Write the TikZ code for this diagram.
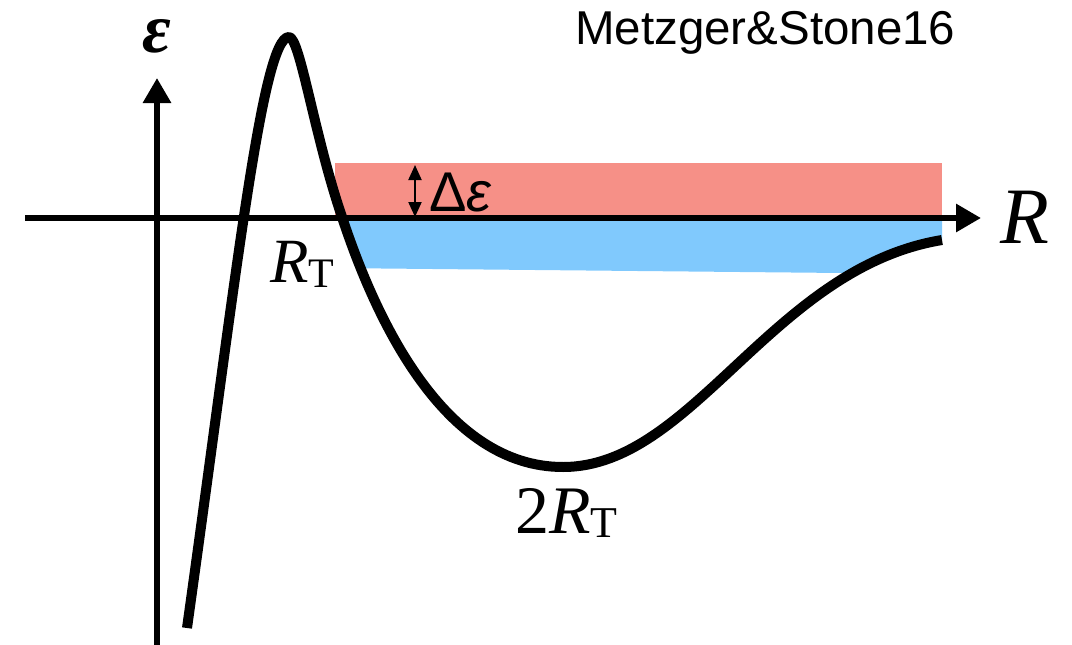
\documentclass[tikz,border=0pt]{standalone}
\usepackage{fontspec}
\setmainfont{Liberation Serif}
\newfontfamily\labelsans{Liberation Sans}
\usetikzlibrary{arrows.meta}
\definecolor{bandred}{HTML}{F69087}
\definecolor{bandblue}{HTML}{80C9FD}
\tikzset{
  axisline/.style={line width=6pt,-{Triangle[length=25pt,width=27pt]}},
  potential/.style={line width=10pt,line join=round},
  gap/.style={line width=2pt,{Triangle[length=15pt,width=13pt]}-{Triangle[length=15pt,width=13pt]}},
  lbl/.style={inner sep=0pt,anchor=base west}
}
\begin{document}
\begin{tikzpicture}[x=1pt,y=-1pt]
\useasboundingbox (0,0) rectangle (1072,645);
% bands
\fill[bandred] (335,163) rectangle (942,218);
\begin{scope}
  \clip (342,218) .. controls (375,317) and (443,467) .. (563,467)
        .. controls (693,467) and (772,268) .. (942,240) -- (942,218) -- cycle;
  \fill[bandblue] (330,218) -- (945,218) -- (945,274) -- (330,268) -- cycle;
\end{scope}
% axes
\coordinate (xs) at (25,218);
\coordinate (xe) at (981,218);
\coordinate (ys) at (157,645);
\coordinate (ye) at (157,78);
\draw[axisline] (xs) -- (xe);
\draw[axisline] (ys) -- (ye);
% potential curve
\coordinate (c0) at (187,628);
\coordinate (peak) at (289,37);
\coordinate (rt) at (342,217);
\coordinate (min) at (563,467);
\coordinate (cend) at (942,240);
\draw[potential] (c0) .. controls (236,278) and (262,37) .. (peak)
  .. controls (300,37) and (314,135) .. (rt)
  .. controls (375,317) and (443,467) .. (min)
  .. controls (693,467) and (772,268) .. (cend);
% delta epsilon arrow
\coordinate (dt) at (415,165);
\coordinate (db) at (415,217);
\draw[gap] (dt) -- (db);
% labels
\node[lbl] (eps) at (142,52) {\fontsize{70}{70}\selectfont\bfseries\itshape ε};
\node[lbl] (rlab) at (1000,243) {\fontsize{80}{80}\selectfont\itshape R};
\node[lbl] (rtlab) at (270,282) {\fontsize{63}{63}\selectfont\itshape R\raisebox{-5pt}{\fontsize{42}{42}\selectfont\upshape T}};
\node[lbl] (tworlab) at (515,533) {\fontsize{68}{68}\selectfont 2\itshape R\raisebox{-4pt}{\fontsize{44}{44}\selectfont\upshape T}};
\node[lbl] (delab) at (429,211) {\fontsize{56}{56}\selectfont\labelsans Δ\itshape ε};
\node[lbl] (ref) at (575,45) {\fontsize{47.5}{47.5}\selectfont\labelsans Metzger\&Stone16};
\end{tikzpicture}
\end{document}
